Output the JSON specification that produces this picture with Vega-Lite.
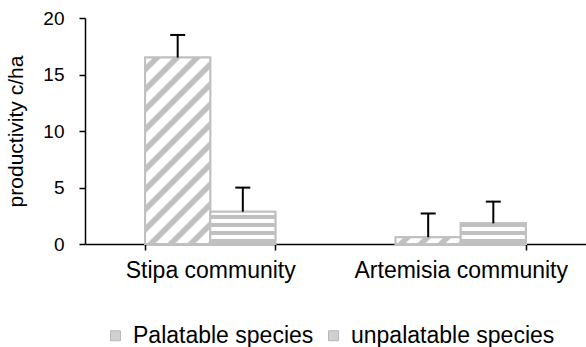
{
  "$schema": "https://vega.github.io/schema/vega-lite/v6.json",
  "width": 501,
  "height": 226,
  "autosize": "none",
  "padding": {"left": 85, "top": 18, "right": 0, "bottom": 103},
  "background": "white",
  "config": {"view": {"stroke": null}, "font": "Liberation Sans"},
  "data": {
    "values": [
      {"community": "Stipa community", "species": "Palatable species", "value": 16.5, "err": 18.5},
      {"community": "Stipa community", "species": "unpalatable species", "value": 2.86, "err": 4.99},
      {"community": "Artemisia community", "species": "Palatable species", "value": 0.6, "err": 2.7},
      {"community": "Artemisia community", "species": "unpalatable species", "value": 1.83, "err": 3.75}
    ]
  },
  "encoding": {
    "x": {
      "field": "community", "type": "nominal",
      "scale": {"domain": ["Stipa community", "Artemisia community"], "paddingInner": 0.48, "paddingOuter": 0.24},
      "axis": {"title": null, "labelAngle": 0, "labelLimit": 0, "domainColor": "black", "domainWidth": 1.5, "tickColor": "black", "tickWidth": 1.5, "tickSize": 6, "tickBand": "extent", "labelFontSize": 23, "labelColor": "black", "labelPadding": 9}
    },
    "xOffset": {
      "field": "species", "type": "nominal",
      "scale": {"domain": ["Palatable species", "unpalatable species"], "paddingInner": 0, "paddingOuter": 0}
    }
  },
  "layer": [
    {
      "mark": {"type": "bar", "stroke": "#c0c0c0", "strokeWidth": 2},
      "encoding": {
        "y": {"field": "value", "type": "quantitative", "title": "productivity c/ha",
          "scale": {"domain": [0, 20], "nice": false},
          "axis": {"values": [0, 5, 10, 15, 20], "grid": false, "domainColor": "black", "domainWidth": 1.5, "tickColor": "black", "tickWidth": 1.5, "tickSize": 6, "labelFontSize": 19, "labelColor": "black", "labelPadding": 15, "titleFontSize": 21, "titleFontWeight": "normal", "titleColor": "black", "titleX": -69, "titleY": 113, "titleAlign": "center", "titleBaseline": "middle", "titleAngle": -90}
        },
        "fill": {
          "field": "species", "type": "nominal",
          "scale": {"domain": ["Palatable species", "unpalatable species"], "range": ["#d0d0d0", "#d0d0d0"]},
          "legend": {"orient": "none", "legendX": 19, "legendY": 306, "direction": "horizontal", "title": null, "labelLimit": 0, "symbolType": "square", "symbolSize": 100, "symbolStrokeColor": "#b8b8b8", "symbolStrokeWidth": 1, "symbolFillColor": "#d0d0d0", "labelFontSize": 23, "labelColor": "black", "labelOffset": 6, "columnPadding": 8, "padding": 0}
        }
      }
    },
    {
      "transform": [{"filter": "datum.community === 'Stipa community' && datum.species === 'Palatable species'"}],
      "mark": {"type": "bar", "stroke": "#c0c0c0", "strokeWidth": 2,
        "fill": {"gradient": "linear", "x1": 0, "y1": 0, "x2": 0.4199, "y2": 1.2026, "stops": [
          {"offset": 0, "color": "#ffffff"},
          {"offset": 0.0278, "color": "#ffffff"}, {"offset": 0.0358, "color": "#c0c0c0"}, {"offset": 0.0596, "color": "#c0c0c0"}, {"offset": 0.0676, "color": "#ffffff"},
          {"offset": 0.1073, "color": "#ffffff"}, {"offset": 0.1153, "color": "#c0c0c0"}, {"offset": 0.1391, "color": "#c0c0c0"}, {"offset": 0.1471, "color": "#ffffff"},
          {"offset": 0.1868, "color": "#ffffff"}, {"offset": 0.1948, "color": "#c0c0c0"}, {"offset": 0.2186, "color": "#c0c0c0"}, {"offset": 0.2266, "color": "#ffffff"},
          {"offset": 0.2663, "color": "#ffffff"}, {"offset": 0.2743, "color": "#c0c0c0"}, {"offset": 0.2982, "color": "#c0c0c0"}, {"offset": 0.3061, "color": "#ffffff"},
          {"offset": 0.3459, "color": "#ffffff"}, {"offset": 0.3538, "color": "#c0c0c0"}, {"offset": 0.3777, "color": "#c0c0c0"}, {"offset": 0.3856, "color": "#ffffff"},
          {"offset": 0.4254, "color": "#ffffff"}, {"offset": 0.4333, "color": "#c0c0c0"}, {"offset": 0.4572, "color": "#c0c0c0"}, {"offset": 0.4651, "color": "#ffffff"},
          {"offset": 0.5049, "color": "#ffffff"}, {"offset": 0.5128, "color": "#c0c0c0"}, {"offset": 0.5367, "color": "#c0c0c0"}, {"offset": 0.5446, "color": "#ffffff"},
          {"offset": 0.5844, "color": "#ffffff"}, {"offset": 0.5923, "color": "#c0c0c0"}, {"offset": 0.6162, "color": "#c0c0c0"}, {"offset": 0.6241, "color": "#ffffff"},
          {"offset": 0.6639, "color": "#ffffff"}, {"offset": 0.6718, "color": "#c0c0c0"}, {"offset": 0.6957, "color": "#c0c0c0"}, {"offset": 0.7036, "color": "#ffffff"},
          {"offset": 0.7434, "color": "#ffffff"}, {"offset": 0.7514, "color": "#c0c0c0"}, {"offset": 0.7752, "color": "#c0c0c0"}, {"offset": 0.7832, "color": "#ffffff"},
          {"offset": 0.8229, "color": "#ffffff"}, {"offset": 0.8309, "color": "#c0c0c0"}, {"offset": 0.8547, "color": "#c0c0c0"}, {"offset": 0.8627, "color": "#ffffff"},
          {"offset": 0.9024, "color": "#ffffff"}, {"offset": 0.9104, "color": "#c0c0c0"}, {"offset": 0.9342, "color": "#c0c0c0"}, {"offset": 0.9422, "color": "#ffffff"},
          {"offset": 0.9819, "color": "#ffffff"}, {"offset": 0.9899, "color": "#c0c0c0"}, {"offset": 1, "color": "#c0c0c0"}
        ]}
      },
      "encoding": {"y": {"field": "value", "type": "quantitative", "title": "productivity c/ha"}}
    },
    {
      "transform": [{"filter": "datum.community === 'Artemisia community' && datum.species === 'Palatable species'"}],
      "mark": {"type": "bar", "stroke": "#c0c0c0", "strokeWidth": 2,
        "fill": {"gradient": "linear", "x1": 0, "y1": 0, "x2": 1.0923, "y2": 0.1138, "stops": [
          {"offset": 0, "color": "#ffffff"},
          {"offset": 0.0974, "color": "#ffffff"}, {"offset": 0.1252, "color": "#c0c0c0"}, {"offset": 0.2087, "color": "#c0c0c0"}, {"offset": 0.2365, "color": "#ffffff"},
          {"offset": 0.3756, "color": "#ffffff"}, {"offset": 0.4034, "color": "#c0c0c0"}, {"offset": 0.4869, "color": "#c0c0c0"}, {"offset": 0.5147, "color": "#ffffff"},
          {"offset": 0.6539, "color": "#ffffff"}, {"offset": 0.6817, "color": "#c0c0c0"}, {"offset": 0.7652, "color": "#c0c0c0"}, {"offset": 0.7930, "color": "#ffffff"},
          {"offset": 0.9321, "color": "#ffffff"}, {"offset": 0.9599, "color": "#c0c0c0"}, {"offset": 1, "color": "#c0c0c0"}
        ]}
      },
      "encoding": {"y": {"field": "value", "type": "quantitative", "title": "productivity c/ha"}}
    },
    {
      "transform": [{"filter": "datum.community === 'Stipa community' && datum.species === 'unpalatable species'"}],
      "mark": {"type": "bar", "stroke": "#c0c0c0", "strokeWidth": 2,
        "fill": {"gradient": "linear", "x1": 0, "y1": 0, "x2": 0, "y2": 1, "stops": [
          {"offset": 0, "color": "#ffffff"},
          {"offset": 0.0867, "color": "#ffffff"}, {"offset": 0.1176, "color": "#c0c0c0"}, {"offset": 0.2105, "color": "#c0c0c0"}, {"offset": 0.2415, "color": "#ffffff"},
          {"offset": 0.3344, "color": "#ffffff"}, {"offset": 0.3653, "color": "#c0c0c0"}, {"offset": 0.4582, "color": "#c0c0c0"}, {"offset": 0.4892, "color": "#ffffff"},
          {"offset": 0.5820, "color": "#ffffff"}, {"offset": 0.6130, "color": "#c0c0c0"}, {"offset": 0.7059, "color": "#c0c0c0"}, {"offset": 0.7368, "color": "#ffffff"},
          {"offset": 0.8297, "color": "#ffffff"}, {"offset": 0.8607, "color": "#c0c0c0"}, {"offset": 0.9536, "color": "#c0c0c0"}, {"offset": 0.9845, "color": "#ffffff"},
          {"offset": 1, "color": "#ffffff"}
        ]}
      },
      "encoding": {"y": {"field": "value", "type": "quantitative", "title": "productivity c/ha"}}
    },
    {
      "transform": [{"filter": "datum.community === 'Artemisia community' && datum.species === 'unpalatable species'"}],
      "mark": {"type": "bar", "stroke": "#c0c0c0", "strokeWidth": 2,
        "fill": {"gradient": "linear", "x1": 0, "y1": 0, "x2": 0, "y2": 1, "stops": [
          {"offset": 0, "color": "#c0c0c0"}, {"offset": 0.1546, "color": "#c0c0c0"}, {"offset": 0.2029, "color": "#ffffff"},
          {"offset": 0.3478, "color": "#ffffff"}, {"offset": 0.3961, "color": "#c0c0c0"}, {"offset": 0.5411, "color": "#c0c0c0"}, {"offset": 0.5894, "color": "#ffffff"},
          {"offset": 0.7343, "color": "#ffffff"}, {"offset": 0.7826, "color": "#c0c0c0"}, {"offset": 0.9275, "color": "#c0c0c0"}, {"offset": 0.9758, "color": "#ffffff"},
          {"offset": 1, "color": "#ffffff"}
        ]}
      },
      "encoding": {"y": {"field": "value", "type": "quantitative", "title": "productivity c/ha"}}
    },
    {
      "mark": {"type": "rule", "color": "black", "strokeWidth": 2},
      "encoding": {
        "y": {"field": "value", "type": "quantitative", "title": "productivity c/ha"},
        "y2": {"field": "err"}
      }
    },
    {
      "mark": {"type": "tick", "orient": "horizontal", "color": "black", "size": 15, "thickness": 2, "opacity": 1},
      "encoding": {"y": {"field": "err", "type": "quantitative", "title": "productivity c/ha"}}
    }
  ]
}
